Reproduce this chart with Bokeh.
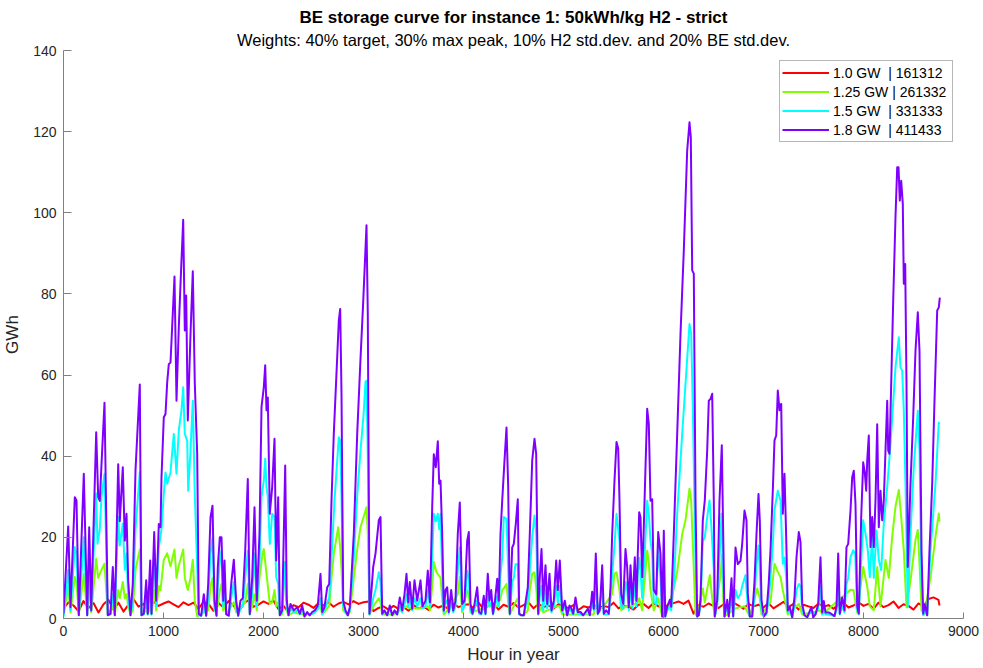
from bokeh.plotting import figure
from bokeh.models import Range1d, Title, SingleIntervalTicker
from bokeh.embed import file_html
from bokeh.resources import INLINE

MAIN_TITLE = "BE storage curve for instance 1: 50kWh/kg H2 - strict"
SUB_TITLE = "Weights: 40% target, 30% max peak, 10% H2 std.dev. and 20% BE std.dev."
X_LABEL = "Hour in year"
Y_LABEL = "GWh"
LABELS = ["1.0 GW\u00a0 | 161312", "1.25 GW | 261332", "1.5 GW\u00a0 | 331333", "1.8 GW\u00a0 | 411433"]

# 1.0 GW series (red)
red_hours = list(range(0, 8760, 50)) + [8760]
red_gwh = [
    2.5, 4.0, 3.2, 1.8, 4.3, 2.6, 3.8, 1.5, 3.5, 4.6, 2.2, 3.9, 1.7, 3.4, 4.8, 2.9, 3.6, 1.9, 4.2, 3.1,
    3.7, 4.2, 3.5, 2.8, 4.0, 3.3, 3.9, 2.4, 4.1, 3.6, 1.9, 3.8, 2.7, 4.3, 3.2, 1.6, 3.7, 4.5, 2.9, 3.4,
    4.2, 3.6, 4.4, 2.3, 3.1, 1.5, 3.3, 2.8, 3.9, 3.4, 2.6, 3.8, 3.2, 4.0, 2.9, 3.7, 4.1, 3.5, 4.3, 3.6,
    4.0, 4.2, 1.8, 2.6, 3.0, 2.2, 3.1, 2.4, 2.8, 1.9, 3.3, 2.5, 2.9, 2.1, 3.4, 2.7, 3.2, 2.3, 3.6, 2.8,
    3.3, 3.5, 2.6, 3.9, 2.4, 3.1, 3.7, 2.2, 3.4, 2.9, 3.8, 2.7, 3.3, 4.0, 2.5, 3.6, 2.8, 3.2, 2.4, 3.5,
    3.0, 2.6, 3.3, 2.1, 3.0, 2.7, 3.5, 2.3, 3.1, 2.8, 3.9, 2.5, 3.2, 2.9, 2.2, 3.4, 3.6, 2.6, 3.8, 3.0,
    2.7, 3.4, 3.8, 4.2, 3.6, 4.4, 1.2, 3.3, 2.9, 3.7, 3.1, 2.6, 3.5, 2.8, 3.9, 3.2, 2.4, 3.6, 3.0, 3.4,
    2.7, 3.8, 2.5, 3.3, 4.1, 2.8, 3.6, 2.2, 3.4, 3.0, 2.6, 3.7, 2.9, 3.3, 2.4, 3.5, 3.9, 2.7, 3.2, 4.0,
    3.1, 3.6, 2.4, 3.9, 2.8, 3.3, 4.2, 2.6, 3.5, 3.1, 2.2, 3.7, 3.0, 4.8, 5.2, 4.6, 3.2,
]

# 1.25 GW series (green)
green_hours = [
    0, 47, 70, 113, 130, 153, 203, 237, 257, 277, 327, 347, 380, 410, 443, 493, 513, 547, 563, 593,
    613, 630, 647, 670, 693, 720, 763, 780, 827, 843, 867, 880, 907, 927, 953, 970, 1003, 1037, 1070, 1110,
    1130, 1153, 1197, 1213, 1243, 1270, 1293, 1313, 1337, 1403, 1447, 1470, 1490, 1510, 1543, 1563, 1580, 1597, 1610, 1627,
    1703, 1727, 1817, 1843, 1863, 1887, 1910, 1933, 1960, 1990, 2003, 2030, 2063, 2087, 2110, 2127, 2147, 2163, 2187, 2213,
    2233, 2250, 2300, 2400, 2500, 2570, 2587, 2637, 2657, 2680, 2703, 2747, 2767, 2780, 2797, 2843, 2863, 2903, 2937, 2970,
    3030, 3043, 3060, 3097, 3153, 3170, 3187, 3300, 3430, 3463, 3510, 3570, 3643, 3665, 3687, 3703, 3730, 3770, 3787, 3803,
    3840, 3943, 3963, 3987, 4037, 4053, 4070, 4140, 4243, 4337, 4370, 4387, 4410, 4430, 4447, 4463, 4520, 4543, 4557, 4603,
    4643, 4663, 4687, 4710, 4727, 4747, 4780, 4797, 4927, 4963, 4987, 5300, 5323, 5387, 5487, 5510, 5530, 5560, 5577, 5620,
    5670, 5743, 5757, 5787, 5820, 5837, 5853, 5870, 5903, 5947, 5987, 6003, 6017, 6103, 6137, 6187, 6220, 6260, 6277, 6293,
    6320, 6337, 6393, 6413, 6463, 6487, 6513, 6570, 6587, 6597, 6610, 6720, 6810, 6863, 6937, 6963, 6980, 7070, 7110, 7137,
    7170, 7193, 7227, 7243, 7353, 7387, 7570, 7587, 7870, 7900, 7937, 7997, 8037, 8063, 8103, 8137, 8170, 8220, 8253, 8287,
    8320, 8353, 8377, 8403, 8430, 8470, 8520, 8543, 8563, 8580, 8610, 8670, 8720, 8753, 8760,
]
green_gwh = [
    0.5, 8, 1.5, 10.2, 9, 1, 11, 1, 8, 1.5, 14.7, 10, 12, 13.5, 1, 3, 1, 7, 5, 9,
    5, 6, 3, 1, 2, 12, 17, 1, 2, 1, 3, 1, 7, 2, 8, 7, 14.5, 16.1, 12.9, 17,
    10, 13, 17, 10, 7, 10, 14.5, 4.4, 0.5, 1.5, 2, 8, 10, 2, 3, 7, 8.5, 2, 4, 1,
    4, 1.5, 4, 8.5, 1, 3, 6, 2, 10, 16, 17.1, 11, 3.6, 4, 7, 3, 4, 1, 1, 13.9,
    2, 0.8, 1.5, 1, 1.2, 3, 1, 2.5, 3, 10, 15.9, 22.5, 17.5, 12, 2, 0.8, 1.5, 10, 17, 22.5,
    27.4, 20.9, 1, 3, 5, 4, 1, 1, 3, 2.5, 2.5, 2.5, 3, 2, 8, 13.9, 11.4, 10, 5, 1,
    2, 6, 10.2, 1.5, 7, 6, 1.5, 2, 3, 3, 5, 7, 7.7, 8.5, 4, 1, 4, 5, 1, 0.8,
    2, 7, 11, 11.4, 7.7, 1, 3, 1.5, 3, 3, 1, 1, 3, 2.5, 6, 11, 11.4, 7, 2, 3,
    3, 4, 5, 2, 12, 16.7, 13.9, 7, 2, 5, 0.5, 3, 0.5, 7.4, 11.5, 20.8, 24.2, 32, 29.1, 18.4,
    1, 0.5, 7.4, 4, 10.7, 5, 0.5, 10.7, 15.8, 5, 0.5, 2.5, 3, 0.5, 7.4, 5, 1, 4, 13.5, 11.8,
    10.2, 7, 3, 1, 3.6, 1, 2, 1, 7.1, 7, 1.5, 12.7, 7.9, 3, 2, 12.7, 3, 14.4, 10, 20.2,
    27.6, 31.7, 25, 16.8, 2.8, 9.4, 19.4, 21.8, 12, 2, 1, 10.2, 20.2, 25.9, 23.9,
]

# 1.5 GW series (cyan)
cyan_hours = [
    0, 47, 70, 113, 130, 153, 203, 237, 257, 277, 327, 340, 363, 380, 410, 443, 470, 493, 513, 547,
    563, 593, 613, 630, 647, 670, 693, 720, 763, 780, 803, 827, 843, 867, 880, 907, 927, 953, 980, 1003,
    1020, 1037, 1070, 1103, 1130, 1153, 1180, 1197, 1213, 1237, 1247, 1270, 1293, 1313, 1337, 1353, 1377, 1403, 1427, 1447,
    1470, 1490, 1510, 1530, 1543, 1563, 1580, 1597, 1610, 1627, 1653, 1677, 1703, 1727, 1747, 1770, 1793, 1817, 1843, 1863,
    1887, 1910, 1933, 1960, 1980, 2003, 2017, 2030, 2043, 2063, 2087, 2110, 2127, 2147, 2163, 2187, 2217, 2233, 2250, 2270,
    2303, 2337, 2363, 2387, 2410, 2437, 2463, 2487, 2513, 2543, 2570, 2587, 2610, 2637, 2657, 2680, 2710, 2753, 2767, 2780,
    2797, 2820, 2843, 2863, 2903, 2937, 2970, 3000, 3020, 3030, 3043, 3060, 3080, 3097, 3120, 3153, 3170, 3187, 3210, 3237,
    3263, 3287, 3310, 3337, 3363, 3387, 3410, 3430, 3447, 3463, 3487, 3510, 3537, 3570, 3590, 3620, 3643, 3665, 3687, 3703,
    3723, 3743, 3757, 3770, 3787, 3803, 3820, 3837, 3853, 3877, 3897, 3920, 3943, 3963, 3987, 4010, 4037, 4053, 4070, 4090,
    4110, 4137, 4155, 4177, 4203, 4220, 4243, 4260, 4277, 4295, 4315, 4337, 4353, 4370, 4387, 4403, 4430, 4447, 4463, 4487,
    4503, 4520, 4543, 4557, 4577, 4603, 4623, 4643, 4663, 4687, 4710, 4727, 4747, 4763, 4780, 4797, 4820, 4837, 4860, 4880,
    4903, 4927, 4943, 4963, 4987, 5013, 5037, 5060, 5097, 5120, 5143, 5197, 5243, 5263, 5287, 5303, 5323, 5343, 5387, 5403,
    5453, 5470, 5487, 5510, 5530, 5547, 5560, 5577, 5597, 5620, 5637, 5653, 5670, 5690, 5713, 5730, 5743, 5757, 5770, 5787,
    5803, 5820, 5837, 5853, 5870, 5887, 5903, 5927, 5947, 5970, 5987, 6003, 6017, 6037, 6063, 6077, 6103, 6137, 6187, 6220,
    6260, 6277, 6293, 6320, 6337, 6353, 6370, 6393, 6413, 6437, 6460, 6477, 6503, 6513, 6537, 6560, 6580, 6597, 6610, 6637,
    6653, 6680, 6697, 6720, 6743, 6770, 6787, 6820, 6843, 6863, 6887, 6910, 6930, 6950, 6963, 6980, 7003, 7030, 7053, 7070,
    7093, 7110, 7143, 7170, 7193, 7210, 7227, 7243, 7263, 7287, 7310, 7330, 7353, 7370, 7387, 7410, 7437, 7480, 7520, 7547,
    7570, 7587, 7603, 7620, 7653, 7710, 7730, 7747, 7763, 7787, 7810, 7830, 7847, 7870, 7897, 7917, 7937, 7953, 7977, 7997,
    8020, 8043, 8063, 8087, 8103, 8130, 8153, 8177, 8203, 8237, 8270, 8320, 8353, 8370, 8387, 8403, 8420, 8443, 8470, 8503,
    8543, 8560, 8580, 8597, 8613, 8637, 8670, 8720, 8753, 8760,
]
cyan_gwh = [
    0.5, 12, 2, 17.6, 16, 0.8, 20, 0.8, 14, 2, 30.8, 18.4, 22, 30, 35.7, 0.8, 1, 6, 0.8, 25,
    18, 23.4, 12, 16, 5, 0.8, 4, 22, 36.1, 0.8, 1, 5, 1, 8, 1, 16.7, 3, 17.5, 22, 30.7,
    36, 33.2, 36, 45.5, 35.7, 46.4, 51.3, 57, 45.5, 43.8, 31.5, 41.3, 53.7, 30.7, 12.6, 0.8, 0.7, 3, 0.7, 5,
    16, 20, 3, 0.7, 8, 14, 16.7, 3, 9, 1, 0.7, 5, 9, 3, 0.7, 2.5, 3, 10, 16.7, 1,
    6, 16, 3, 14, 30, 34, 39.4, 32.4, 30, 18.4, 25.8, 25, 10.2, 8.5, 0.8, 1.5, 14, 3, 0.8, 2.5,
    1.5, 2, 1, 2.5, 0.5, 1.2, 0.8, 1.2, 1.5, 2.5, 5, 1, 2, 4, 5, 15, 29, 44.7, 43.8, 30,
    3, 1.5, 0.8, 2, 15, 30, 41.4, 50, 58.3, 58.6, 40, 1, 3, 5, 7, 11.4, 9, 1, 1.5, 0.8,
    2.5, 0.8, 1.5, 1, 3, 1.5, 3.5, 6, 3, 5, 2, 5, 3, 5, 2.5, 3, 7, 3, 15, 25.8,
    24, 25.8, 22, 25.8, 11, 1.5, 4, 4.5, 1.2, 4, 1.5, 3, 12, 17.5, 2, 3, 11.8, 10, 2, 1,
    2.5, 4.5, 1.2, 1, 3.5, 1, 6, 3, 4, 1, 3, 5.5, 3, 11, 15, 25, 24.5, 12, 1, 9,
    10, 13.4, 13.4, 1, 0.8, 0.8, 3, 4.5, 12, 20, 25.4, 21, 1, 5.5, 8, 2, 7, 2.5, 6, 1.5,
    3, 8, 4, 8, 1.5, 3, 0.8, 2.5, 1, 3.5, 1.2, 0.8, 2, 0.8, 4.5, 2, 9, 1, 7.5, 1,
    1, 5, 11, 18, 25.8, 22, 19.2, 3, 2.5, 9, 7, 2, 7.5, 2.5, 8.5, 3, 11, 15, 12, 5,
    12, 20, 29, 25.8, 19.2, 16, 4, 3.5, 17.5, 10, 0.5, 10, 0.5, 2, 3, 2, 8.3, 25.8, 45.5, 57.8,
    72.6, 70.1, 52, 14.2, 0.5, 0.8, 3, 19.1, 20, 25, 29.1, 23.4, 12, 0.5, 3, 15, 25.8, 10, 0.5, 3,
    0.5, 6, 0.5, 7, 5, 6, 8, 10.7, 3, 0.5, 0.5, 5, 13.3, 18, 12, 2, 0.5, 1, 5, 10,
    18, 26.7, 31.5, 29.1, 13.5, 15, 10, 1.5, 2, 0.3, 3, 7, 8.5, 8, 2, 0.8, 0.3, 2, 1, 2.5,
    8, 1, 3, 1, 1, 0.6, 2, 8, 1, 3, 1.5, 8.5, 10, 15.1, 16.8, 16, 2, 1, 14, 24.2,
    21, 16.8, 10.2, 20.2, 10, 21.7, 14.4, 11.9, 23.4, 32.4, 43, 61.9, 69.3, 61.9, 61.1, 51.2, 33.2, 2.8, 20.9, 37.3,
    51.2, 41.4, 8, 0.8, 2, 0.8, 16.8, 33.2, 48.3, 47.9,
]

# 1.8 GW series (purple)
purple_hours = [
    0, 47, 70, 113, 130, 153, 203, 237, 257, 277, 327, 347, 363, 380, 410, 443, 470, 493, 513, 547,
    563, 593, 613, 630, 647, 670, 693, 720, 763, 780, 803, 827, 843, 867, 880, 907, 927, 953, 970, 980,
    1003, 1020, 1037, 1053, 1070, 1110, 1130, 1153, 1177, 1197, 1213, 1227, 1243, 1270, 1293, 1313, 1337, 1353, 1377, 1403,
    1427, 1447, 1470, 1490, 1510, 1530, 1543, 1563, 1580, 1597, 1610, 1627, 1653, 1677, 1703, 1727, 1747, 1770, 1793, 1817,
    1843, 1863, 1887, 1910, 1933, 1960, 1980, 2003, 2017, 2030, 2043, 2063, 2087, 2110, 2127, 2147, 2163, 2187, 2217, 2233,
    2250, 2270, 2303, 2337, 2363, 2387, 2410, 2437, 2463, 2487, 2513, 2543, 2570, 2587, 2610, 2637, 2657, 2680, 2703, 2737,
    2753, 2767, 2780, 2797, 2820, 2843, 2863, 2903, 2937, 2970, 2997, 3030, 3043, 3060, 3080, 3097, 3120, 3153, 3170, 3187,
    3210, 3237, 3263, 3287, 3310, 3337, 3363, 3387, 3410, 3430, 3447, 3463, 3487, 3510, 3537, 3570, 3590, 3620, 3643, 3665,
    3687, 3703, 3723, 3743, 3757, 3770, 3787, 3803, 3820, 3837, 3853, 3877, 3897, 3920, 3943, 3963, 3987, 4010, 4037, 4053,
    4070, 4090, 4110, 4137, 4155, 4177, 4203, 4220, 4243, 4260, 4277, 4295, 4315, 4337, 4353, 4370, 4387, 4410, 4430, 4447,
    4463, 4487, 4503, 4523, 4543, 4557, 4577, 4603, 4623, 4643, 4663, 4687, 4710, 4727, 4747, 4763, 4780, 4797, 4820, 4837,
    4860, 4880, 4903, 4927, 4943, 4963, 4987, 5013, 5037, 5060, 5077, 5097, 5120, 5143, 5170, 5197, 5220, 5243, 5263, 5287,
    5303, 5323, 5343, 5363, 5387, 5403, 5427, 5453, 5470, 5487, 5510, 5530, 5547, 5560, 5577, 5597, 5620, 5637, 5653, 5670,
    5690, 5713, 5730, 5743, 5757, 5770, 5787, 5803, 5820, 5837, 5853, 5870, 5887, 5903, 5927, 5947, 5970, 5987, 6003, 6017,
    6037, 6063, 6077, 6103, 6137, 6170, 6203, 6237, 6260, 6273, 6287, 6303, 6320, 6337, 6353, 6370, 6393, 6413, 6437, 6453,
    6470, 6487, 6503, 6513, 6537, 6560, 6583, 6597, 6610, 6637, 6653, 6680, 6697, 6720, 6743, 6770, 6787, 6810, 6830, 6843,
    6863, 6887, 6910, 6930, 6950, 6963, 6980, 7003, 7030, 7053, 7070, 7093, 7110, 7127, 7143, 7160, 7177, 7193, 7210, 7227,
    7243, 7263, 7287, 7310, 7330, 7353, 7370, 7387, 7410, 7437, 7463, 7480, 7497, 7520, 7547, 7570, 7587, 7603, 7620, 7653,
    7687, 7710, 7730, 7747, 7763, 7787, 7810, 7830, 7847, 7870, 7887, 7903, 7920, 7937, 7953, 7977, 7997, 8013, 8027, 8037,
    8053, 8070, 8087, 8103, 8120, 8137, 8153, 8170, 8187, 8203, 8220, 8237, 8247, 8260, 8277, 8297, 8320, 8337, 8350, 8363,
    8377, 8393, 8403, 8417, 8430, 8443, 8470, 8497, 8520, 8543, 8560, 8580, 8597, 8613, 8637, 8660, 8687, 8710, 8737, 8753,
    8763,
]
purple_gwh = [
    1.2, 22.7, 2.8, 29.9, 29.1, 0.8, 35.7, 0.8, 22.5, 2, 45.9, 29.9, 29, 38, 53.2, 0.8, 1.2, 12.7, 0.8, 38,
    24, 37.3, 19.2, 25.8, 9.4, 0.8, 8.6, 36.5, 57.7, 0.8, 1.2, 9.4, 1.2, 14.3, 1.2, 21.3, 4.4, 23.3, 22.5, 34.8,
    49.6, 50.4, 58.2, 62.7, 63.1, 84.3, 53.7, 71.8, 86.6, 98.3, 71, 79.6, 48.8, 70.1, 85.6, 57.9, 40.6, 1.1, 0.7, 6,
    0.7, 8.5, 24.9, 27.8, 4.4, 0.7, 12.6, 20, 20, 4.4, 14.3, 1.1, 0.7, 8.5, 14.5, 4.4, 0.7, 4.4, 5, 16.7,
    34.4, 1.1, 10.1, 27.4, 4.4, 20.9, 52.1, 57, 62.4, 51.3, 54.5, 25.8, 32.4, 44.3, 14.3, 29.9, 0.8, 2, 37.7, 4.4,
    0.8, 3.6, 2, 2.8, 1.2, 3.2, 0.5, 1.6, 0.8, 1.6, 2, 3.2, 11, 1.6, 2.8, 7.7, 8.5, 29, 45.5, 64.4,
    73.4, 76.3, 55.4, 4.4, 2, 0.8, 2.8, 20.9, 45.5, 64, 78, 96.9, 75, 1.2, 7, 12.7, 16, 24.2, 25, 1.2,
    2, 0.8, 3.2, 0.8, 2, 1, 5.2, 2, 6, 11, 4, 9, 2.4, 9.4, 4.4, 9.4, 3, 4.4, 11.8, 4,
    27.4, 40.5, 37.3, 43.7, 33.2, 34, 20.9, 2, 7, 7.7, 1.6, 7, 2, 4.4, 20.9, 28.6, 3.6, 4.4, 19.2, 21.3,
    3.6, 1.2, 3.6, 7.7, 1.6, 1.2, 5.6, 1.2, 11, 4.4, 7, 1.2, 4.4, 9.8, 4.4, 20.9, 29, 38.9, 47.1, 32.4,
    1.2, 17.5, 18.4, 23.3, 29.4, 1.2, 0.8, 0.8, 4.4, 7.7, 20.9, 38.9, 44.3, 40.5, 1.2, 10.2, 17.1, 4.4, 13.1, 3.6,
    11, 2, 4.4, 14.3, 7, 14.3, 2, 4.4, 0.8, 3.2, 2.6, 1.2, 5.2, 1.6, 1.6, 0.8, 1.6, 2.4, 0.8, 6.6,
    2.4, 16, 1.2, 2, 13.1, 1.2, 2, 1.2, 7.7, 20.9, 34, 43.5, 41.9, 29, 6, 3.6, 17.1, 12.6, 2.8, 13.1,
    3.6, 15.1, 4.4, 16, 26.2, 25, 10.2, 22.5, 37.3, 51.7, 48, 29, 29.4, 7, 6, 21.3, 16, 0.5, 21.6, 0.5,
    2.9, 4.6, 2.9, 20.8, 45.5, 70.1, 90.7, 115.4, 122.3, 118.6, 85.8, 85, 29.1, 0.5, 0.8, 4.6, 24.2, 29.1, 41.4, 53.7,
    54.1, 55.4, 29.1, 0.5, 4.6, 29.1, 42.7, 20.8, 0.5, 4.6, 0.5, 9.9, 0.5, 17.5, 13.4, 14.2, 18.4, 26.6, 24.2, 6.1,
    0.5, 0.5, 9.1, 20.8, 30.7, 24.2, 4.6, 0.5, 1.5, 9, 16.8, 31.5, 43.9, 45.1, 56.2, 51.3, 52.9, 25.8, 35.7, 20.1,
    2, 2.8, 0.3, 5.3, 15.1, 21.3, 18.9, 3.6, 0.8, 0.3, 1.9, 2.8, 0.3, 1, 3.6, 15.1, 1.5, 4.3, 1.5, 1.5,
    1, 0.6, 3, 16, 1.2, 5.2, 2, 17.6, 18.4, 26.6, 34.8, 36.4, 28.2, 3, 1.2, 25, 38.5, 36, 31.5, 38.9,
    45.1, 17.6, 25, 17.6, 29.1, 47.9, 22.5, 31.5, 24.2, 29.1, 41.4, 53.7, 41.4, 40.6, 57.9, 78.4, 99, 111.2, 111.2, 103,
    107.9, 102.2, 82.5, 87.4, 57.9, 12.7, 33.2, 49.6, 66, 75.5, 66, 16.8, 1.2, 3.5, 0.8, 16.8, 33.2, 53.7, 75.9, 76.7,
    79.1,
]

COLORS = ["#ff0000", "#80ff00", "#00ffff", "#8000ff"]
FONT = "Liberation Sans"

p = figure(width=983, height=668, output_backend="svg", toolbar_location=None,
           x_range=Range1d(0, 9000), y_range=Range1d(0, 140),
           title=MAIN_TITLE,
           min_border_left=63, min_border_right=20, min_border_top=50, min_border_bottom=50)

p.title.text_font = FONT
p.title.text_font_size = "17px"
p.title.text_font_style = "bold"
p.title.align = "center"
p.title.text_color = "#000000"
p.title.standoff = 1
sub = Title(text=SUB_TITLE, text_font=FONT, text_font_size="16.5px", text_font_style="normal",
            align="center", text_color="#000000", standoff=3)
p.add_layout(sub, "above")

p.outline_line_color = None
p.xgrid.visible = False
p.ygrid.visible = False
p.background_fill_color = "white"
p.border_fill_color = "white"

p.xaxis.ticker = SingleIntervalTicker(interval=1000, num_minor_ticks=0)
p.yaxis.ticker = SingleIntervalTicker(interval=20, num_minor_ticks=0)
for ax in (p.xaxis, p.yaxis):
    ax.axis_line_color = "#808080"
    ax.major_tick_line_color = "#808080"
    ax.major_tick_out = 0
    ax.minor_tick_line_color = None
    ax.major_label_text_font = FONT
    ax.major_label_text_font_size = "14px"
    ax.major_label_text_color = "#262626"
    ax.axis_label_text_font = FONT
    ax.axis_label_text_font_size = "17px"
    ax.axis_label_text_font_style = "normal"
    ax.axis_label_text_color = "#262626"
p.xaxis.major_tick_in = 6
p.yaxis.major_tick_in = 8
p.xaxis.axis_label = X_LABEL
p.yaxis.axis_label = Y_LABEL
p.xaxis.major_label_standoff = 7
p.yaxis.major_label_standoff = 7
p.xaxis.axis_label_standoff = 6
p.yaxis.axis_label_standoff = 8

series = [(red_hours, red_gwh), (green_hours, green_gwh), (cyan_hours, cyan_gwh), (purple_hours, purple_gwh)]
for (xs, ys), c, lab in zip(series, COLORS, LABELS):
    p.line(xs, ys, line_color=c, line_width=2, line_join="round", legend_label=lab)

lg = p.legend[0]
lg.location = (716, 476)
lg.label_text_font = FONT
lg.label_text_font_size = "14px"
lg.label_text_color = "#000000"
lg.border_line_color = "#6e6e6e"
lg.border_line_width = 1
lg.background_fill_alpha = 1
lg.padding = 2
lg.spacing = 0
lg.margin = 0
lg.glyph_width = 47
lg.glyph_height = 19
lg.label_height = 19
lg.label_width = 117
lg.label_standoff = 4

open("out.html", "w").write(file_html(p, INLINE))
